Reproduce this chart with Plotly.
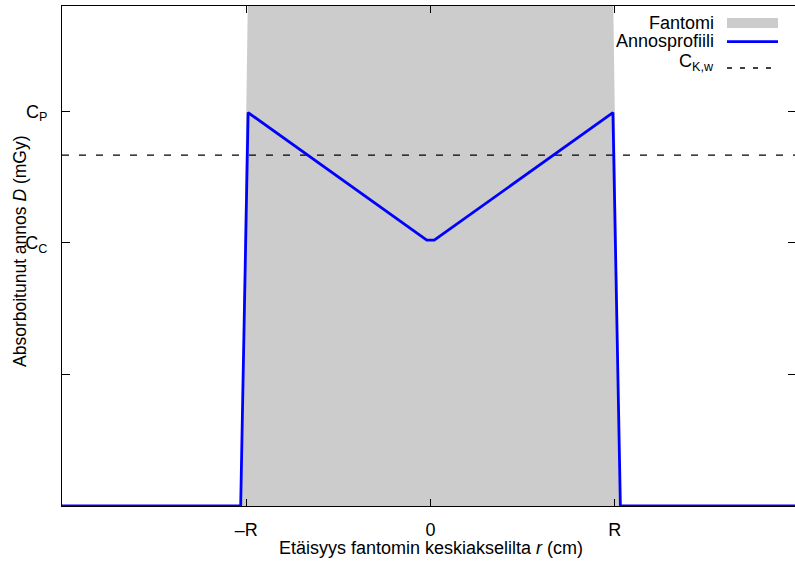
import plotly.graph_objects as go

# --- data ---
profile_r = [-2.0, -1.0303, -0.9899, -0.0202, 0.0202, 0.9899, 1.0303, 2.0]
profile_d = [0.0, 0.0, 2.99, 2.02, 2.02, 2.99, 0.0, 0.0]
phantom_r = [-2.0, -1.0303, -0.9899, 0.9899, 1.0303, 2.0]
phantom_h = [0.0, 0.0, 4.0, 4.0, 0.0, 0.0]
ckw_level = 2.667
x_tickvals = [-1, 0, 1]
x_ticktext = ["\u2013R", "0", "R"]
y_tickvals = [1, 2, 3]
y_ticktext = ["", "C<sub>C</sub>", "C<sub>P</sub>"]
legend_names = ["Fantomi", "Annosprofiili", "C<sub>K,w</sub>"]

FONT = "Liberation Sans, Arial, sans-serif"
GRAY = "#cccccc"
BLUE = "#0000ff"
FS = 18

fig = go.Figure()
fig.add_trace(go.Scatter(x=phantom_r, y=phantom_h, mode="lines", fill="tozeroy",
                         fillcolor=GRAY, line=dict(width=0, color=GRAY),
                         showlegend=False, hoverinfo="skip"))
fig.add_trace(go.Scatter(x=[-2.0, 2.0], y=[ckw_level, ckw_level], mode="lines",
                         line=dict(color="black", width=1.3, dash="7px,10px"),
                         showlegend=False))
fig.add_trace(go.Scatter(x=profile_r, y=profile_d, mode="lines",
                         line=dict(color=BLUE, width=2.8), showlegend=False))
# invisible trace for right-side mirrored y ticks
fig.add_trace(go.Scatter(x=[0], y=[0], yaxis="y2", mode="lines",
                         line=dict(width=0), showlegend=False, hoverinfo="skip"))

fig.update_layout(
    width=795, height=565,
    margin=dict(l=62, r=0, t=6, b=59),
    paper_bgcolor="white", plot_bgcolor="white",
    font=dict(family=FONT, size=FS, color="black"),
    xaxis=dict(range=[-2.0, 1.978], tickvals=x_tickvals, ticktext=x_ticktext,
               ticks="inside", ticklen=7, tickwidth=1, tickcolor="black",
               showline=True, linecolor="black", linewidth=1, mirror="ticks",
               showgrid=False, zeroline=False, ticklabelstandoff=7),
    yaxis=dict(range=[0, 3.8], tickvals=y_tickvals, ticktext=y_ticktext,
               ticks="inside", ticklen=8, tickwidth=1, tickcolor="black",
               showline=True, linecolor="black", linewidth=1,
               showgrid=False, zeroline=False, ticklabelstandoff=10),
    yaxis2=dict(range=[0, 3.8], overlaying="y", side="right", tickvals=y_tickvals,
                ticks="inside", ticklen=7, tickwidth=1, tickcolor="black",
                showticklabels=False, showline=False, showgrid=False, zeroline=False),
)

# axis titles
fig.add_annotation(x=431, y=548, text="Etäisyys fantomin keskiakselilta <i>r</i> (cm)",
                   showarrow=False, xanchor="center", yanchor="middle")
fig.add_annotation(x=20, y=251, text="Absorboitunut annos <i>D</i> (mGy)", textangle=-90,
                   showarrow=False, xanchor="center", yanchor="middle",
                   font=dict(size=17.5))

# manual gnuplot-style legend
rows_y = [22.5, 41.5, 63.0]
for name, yy in zip(legend_names, rows_y):
    fig.add_annotation(x=716, y=yy, text=name, showarrow=False, xanchor="right", yanchor="middle")
fig.add_shape(type="rect", x0=727, x1=778, y0=18, y1=28, fillcolor=GRAY, line=dict(width=0))
fig.add_shape(type="line", x0=727, x1=778, y0=41.7, y1=41.7, line=dict(color=BLUE, width=2.8))
fig.add_shape(type="line", x0=727, x1=778, y0=68, y1=68, line=dict(color="black", width=1.3, dash="5px,8px"))

# convert pixel coordinates of annotations/shapes to paper coords
W, H = 795, 565
L, R, T, B = 62, 0, 6, 59
pw, ph = W - L - R, H - T - B
def px(x):
    return (x - L) / pw
def py(y):
    return (H - B - y) / ph

for a in fig.layout.annotations:
    a.xref = "paper"; a.yref = "paper"
    a.x = px(a.x); a.y = py(a.y)
for s in fig.layout.shapes:
    s.xref = "paper"; s.yref = "paper"
    s.x0 = px(s.x0); s.x1 = px(s.x1); s.y0 = py(s.y0); s.y1 = py(s.y1)

fig.write_html("out.html")
